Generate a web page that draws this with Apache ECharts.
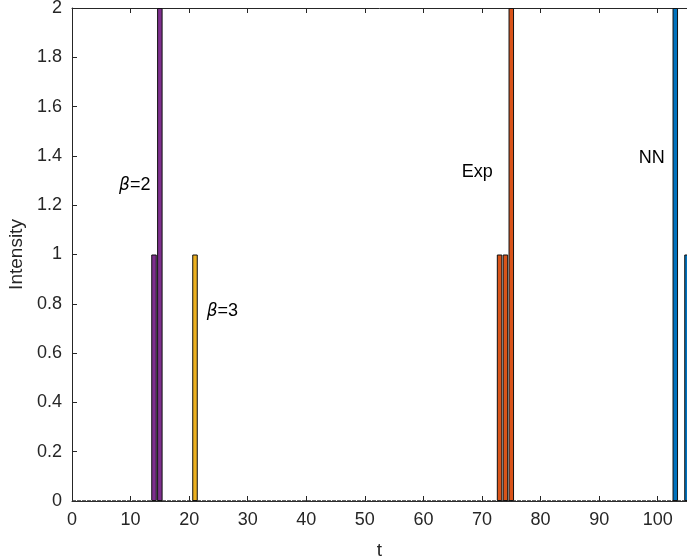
<!DOCTYPE html>
<html><head><meta charset="utf-8">
<script src="https://cdn.jsdelivr.net/npm/echarts@6/dist/echarts.min.js"></script>
<style>html,body{margin:0;padding:0;background:#fff}#c{width:687px;height:560px}</style>
</head><body><div id="c"></div>
<script>
const beta2T = [14, 15];
const beta2V = [1, 2];
const beta3T = [21];
const beta3V = [1];
const expT = [73, 74, 75];
const expV = [1, 1, 2];
const nnT = [103, 105];
const nnV = [2, 1];
const baseT = Array.from({length: 106}, (_, i) => i);
const xTicks = [0, 10, 20, 30, 40, 50, 60, 70, 80, 90, 100];
const yTicks = [0, 0.2, 0.4, 0.6, 0.8, 1, 1.2, 1.4, 1.6, 1.8, 2];
const annotations = [
  {text: '{i|β}=2', t: 13.4, v: 1.28, align: 'right'},
  {text: '{i|β}=3', t: 23.0, v: 0.77, align: 'left'},
  {text: 'Exp', t: 69.2, v: 1.335, align: 'center'},
  {text: 'NN', t: 99.0, v: 1.39, align: 'center'}
];

const pair = (ts, vs) => ts.map((t, i) => [t, vs[i]]);
const axisCol = '#262626';
const font = 'Liberation Sans, Arial, sans-serif';
function barSeries(ts, vs, color) {
  return {
    type: 'bar', data: pair(ts, vs), barWidth: 5.5, barGap: '-100%',
    itemStyle: {color: color, borderColor: '#111', borderWidth: 1},
    z: 3, animation: false
  };
}
const chart = echarts.init(document.getElementById('c'));
chart.setOption({
  animation: false,
  grid: {left: 72, right: 0, top: 8, bottom: 59, containLabel: false, outerBoundsMode: 'none'},
  xAxis: [{
    type: 'value', min: 0, max: 105, interval: 10,
    name: 't', nameLocation: 'middle', nameGap: 40,
    nameTextStyle: {fontFamily: font, fontSize: 19, color: axisCol},
    axisLine: {onZero: false, lineStyle: {color: axisCol, width: 1}},
    axisTick: {inside: true, length: 5, lineStyle: {color: axisCol}},
    axisLabel: {fontFamily: font, fontSize: 18, color: axisCol, margin: 10,
      showMaxLabel: false, formatter: v => xTicks.includes(v) ? String(v) : ''},
    splitLine: {show: false}
  }, {
    type: 'value', min: 0, max: 105, interval: 10, position: 'top',
    axisLine: {show: true, onZero: false, lineStyle: {color: axisCol, width: 1}},
    axisTick: {inside: true, length: 5, lineStyle: {color: axisCol}},
    axisLabel: {show: false}, splitLine: {show: false}
  }],
  yAxis: {
    type: 'value', min: 0, max: 2, interval: 0.2,
    name: 'Intensity', nameLocation: 'middle', nameGap: 46, nameRotate: 90,
    nameTextStyle: {fontFamily: font, fontSize: 19, color: axisCol},
    axisLine: {show: true, lineStyle: {color: axisCol, width: 1}},
    axisTick: {show: true, inside: true, length: 5, lineStyle: {color: axisCol}},
    axisLabel: {fontFamily: font, fontSize: 18, color: axisCol, margin: 10,
      formatter: v => String(Math.round(v * 10) / 10)},
    splitLine: {show: false}
  },
  series: [
    {type: 'line', data: baseT.map(t => [t, 0]), symbol: 'none',
      lineStyle: {color: '#333', width: 1.5, type: [4, 1]}, z: 2, silent: true},
    barSeries(beta2T, beta2V, '#7E2F8E'),
    barSeries(beta3T, beta3V, '#EDB120'),
    barSeries(expT, expV, '#D95319'),
    barSeries(nnT, nnV, '#0072BD')
  ]
});
const g = annotations.map(a => {
  const p = chart.convertToPixel({gridIndex: 0}, [a.t, a.v]);
  return {
    type: 'text', x: p[0], y: p[1], z: 10,
    style: {text: a.text, align: a.align, verticalAlign: 'middle',
      font: '18px ' + font, fill: '#000',
      rich: {i: {fontStyle: 'italic', fontFamily: 'DejaVu Sans', fontSize: 17, fill: '#000'}}}
  };
});
chart.setOption({graphic: g});
</script></body></html>
